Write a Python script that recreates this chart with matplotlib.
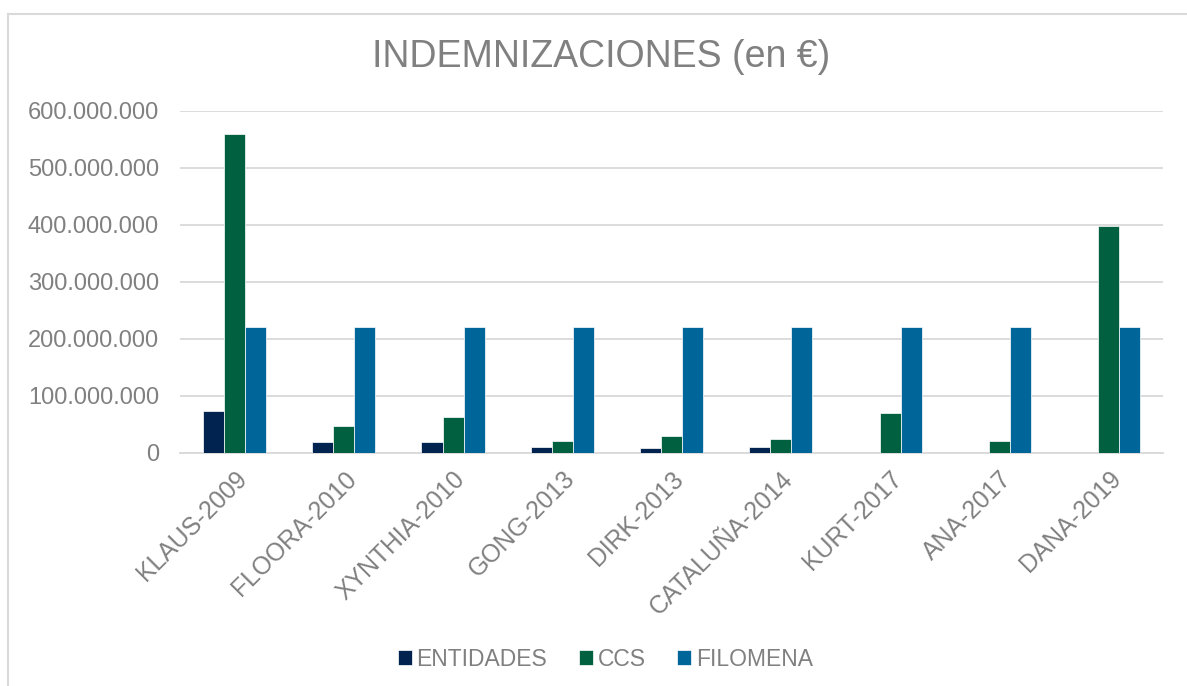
import matplotlib.pyplot as plt
import numpy as np
from matplotlib.ticker import FuncFormatter, MultipleLocator

plt.rcParams['font.family'] = ['Liberation Sans', 'DejaVu Sans']

# data (euros)
eventos = ['KLAUS-2009', 'FLOORA-2010', 'XYNTHIA-2010', 'GONG-2013', 'DIRK-2013',
           'CATALUÑA-2014', 'KURT-2017', 'ANA-2017', 'DANA-2019']
entidades = [73e6, 19e6, 19e6, 10.5e6, 9e6, 10e6, 0, 0, 0]
ccs = [559e6, 47e6, 63e6, 20e6, 29e6, 24e6, 70e6, 21e6, 398e6]
filomena = [221e6, 221e6, 221e6, 221e6, 221e6, 221e6, 221e6, 221e6, 221e6]

series = ['ENTIDADES', 'CCS', 'FILOMENA']
colores = ['#002350', '#00603F', '#00669A']
gris = '#808080'

fig = plt.figure(figsize=(11.87, 6.86), dpi=100)
ax = fig.add_axes([0.1516, 0.340, 0.8284, 0.4986])

x = np.arange(len(eventos))
w = 0.193
for k, (nombre, vals, c) in enumerate(zip(series, [entidades, ccs, filomena], colores)):
    ax.bar(x + (k - 1) * w, vals, w, color=c, label=nombre,
           edgecolor='white', linewidth=0.5, zorder=3)

ax.set_xlim(-0.5, len(eventos) - 0.5)
ax.set_ylim(0, 600e6)
ax.yaxis.set_major_locator(MultipleLocator(100e6))
ax.yaxis.set_major_formatter(FuncFormatter(lambda v, p: f"{int(v):,}".replace(',', '.')))
ax.grid(axis='y', color='#d9d9d9', linewidth=1.3, zorder=0)
for s in ['top', 'right', 'left']:
    ax.spines[s].set_visible(False)
ax.spines['bottom'].set_color('#d9d9d9')
ax.spines['bottom'].set_linewidth(1.3)

ax.set_xticks(x)
ax.set_xticklabels(eventos, rotation=45, ha='right', rotation_mode='anchor')
ax.tick_params(axis='x', length=0, pad=10, labelsize=17.8, labelcolor=gris)
ax.tick_params(axis='y', length=0, pad=15, labelsize=17, labelcolor=gris)

fig.text(601 / 1187, 1 - 57 / 686, 'INDEMNIZACIONES (en €)', ha='center', va='center',
         fontsize=27, color=gris)

leg = fig.legend(loc='center', bbox_to_anchor=(0.51, 1 - 659 / 686), ncol=3,
                 frameon=False, fontsize=16.5, handlelength=0.6, handleheight=0.6,
                 handletextpad=0.2, columnspacing=1.4)
for t in leg.get_texts():
    t.set_color(gris)

# chart border (top and left visible)
fig.add_artist(plt.Line2D([8 / 1187, 1], [1 - 14 / 686, 1 - 14 / 686],
                          transform=fig.transFigure, color='#d9d9d9', linewidth=1.5))
fig.add_artist(plt.Line2D([8 / 1187, 8 / 1187], [0, 1 - 14 / 686],
                          transform=fig.transFigure, color='#d9d9d9', linewidth=1.5))

fig.savefig('out.png', dpi=100)
